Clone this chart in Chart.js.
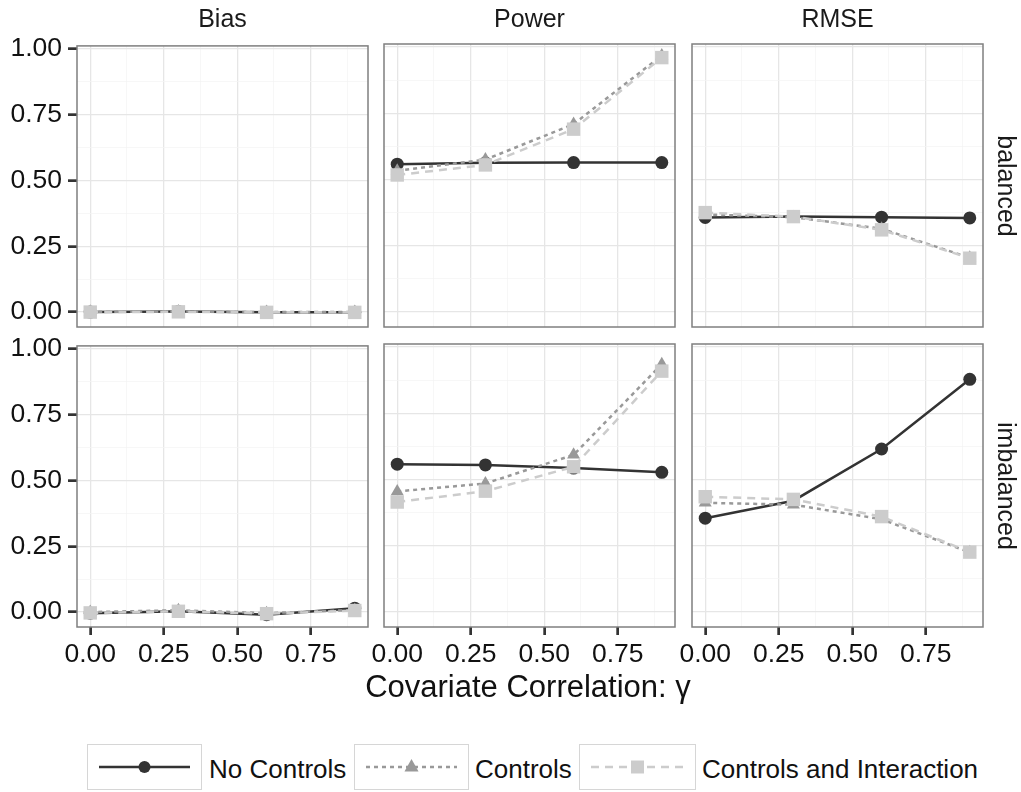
<!DOCTYPE html>
<html>
<head>
<meta charset="utf-8">
<script src="https://cdn.jsdelivr.net/npm/chart.js@4.4.0/dist/chart.umd.min.js"></script>
<style>
  body { margin: 0; background: #fff; width: 1021px; height: 792px; position: relative; overflow: hidden;
         font-family: "Liberation Sans", Arial, sans-serif; color: #1a1a1a; }
  canvas { position: absolute; }
  .txt { position: absolute; white-space: nowrap; }
  .strip { font-size: 25px; line-height: 25px; transform: translateX(-50%); }
  .rstrip { font-size: 25px; line-height: 25px; transform: translate(-50%, -50%) rotate(90deg); }
  .keybox { position: absolute; border: 1.5px solid #d6d6d6; box-sizing: border-box; }
  .keylab { font-size: 26px; line-height: 26px; color: #111; }
</style>
</head>
<body>
<script>
// x values (covariate correlation gamma) and tick positions
var gamma = [0, 0.3, 0.6, 0.9];
var xTicks = [0, 0.125, 0.25, 0.375, 0.5, 0.625, 0.75, 0.875];
var yTicks = [0, 0.125, 0.25, 0.375, 0.5, 0.625, 0.75, 0.875, 1];
var measures = ['Bias', 'Power', 'RMSE'];
var designs = ['balanced', 'imbalanced'];
var seriesNames = ['No Controls', 'Controls', 'Controls and Interaction'];

// Bias
var biasBalancedNoControls   = [0.000, 0.002, -0.001, -0.001];
var biasBalancedControls     = [0.001, 0.002, 0.000, 0.000];
var biasBalancedInteraction  = [0.000, 0.001, -0.001, -0.001];
var biasImbalancedNoControls  = [-0.004, 0.003, -0.010, 0.015];
var biasImbalancedControls    = [0.000, 0.007, -0.004, 0.008];
var biasImbalancedInteraction = [-0.003, 0.003, -0.006, 0.006];
// Power
var powerBalancedNoControls   = [0.558, 0.563, 0.564, 0.564];
var powerBalancedControls     = [0.533, 0.575, 0.709, 0.968];
var powerBalancedInteraction  = [0.517, 0.555, 0.690, 0.960];
var powerImbalancedNoControls  = [0.558, 0.555, 0.543, 0.527];
var powerImbalancedControls    = [0.455, 0.485, 0.593, 0.935];
var powerImbalancedInteraction = [0.415, 0.456, 0.548, 0.909];
// RMSE
var rmseBalancedNoControls   = [0.357, 0.360, 0.358, 0.355];
var rmseBalancedControls     = [0.368, 0.358, 0.314, 0.205];
var rmseBalancedInteraction  = [0.375, 0.360, 0.310, 0.203];
var rmseImbalancedNoControls  = [0.354, 0.420, 0.615, 0.878];
var rmseImbalancedControls    = [0.412, 0.405, 0.350, 0.225];
var rmseImbalancedInteraction = [0.435, 0.425, 0.360, 0.226];

var panels = [
  [[biasBalancedNoControls, biasBalancedControls, biasBalancedInteraction],
   [powerBalancedNoControls, powerBalancedControls, powerBalancedInteraction],
   [rmseBalancedNoControls, rmseBalancedControls, rmseBalancedInteraction]],
  [[biasImbalancedNoControls, biasImbalancedControls, biasImbalancedInteraction],
   [powerImbalancedNoControls, powerImbalancedControls, powerImbalancedInteraction],
   [rmseImbalancedNoControls, rmseImbalancedControls, rmseImbalancedInteraction]]
];

// look of each series
var styles = [
  { color: '#333333', dash: [], point: 'circle', radius: 6.5 },
  { color: '#999999', dash: [4, 4], point: 'triangle', radius: 7.5 },
  { color: '#cccccc', dash: [8, 6], point: 'rect', radius: 9.5 }
];

// panel geometry
var colLeft = [77, 384, 692];
var rowTop = [44, 344];
var panelW = 291, panelH = 283;
var axisW = 77, axisH = 45, pad = 20;
var font = '"Liberation Sans", Arial, sans-serif';

function isMajor(v) { return Math.abs(v * 4 - Math.round(v * 4)) < 1e-6; }

var panelBorder = {
  id: 'panelBorder',
  afterDraw: function(chart) {
    var a = chart.chartArea, ctx = chart.ctx;
    ctx.save();
    ctx.strokeStyle = '#7f7f7f';
    ctx.lineWidth = 1.5;
    ctx.strokeRect(a.left, a.top, a.right - a.left, a.bottom - a.top);
    ctx.restore();
  }
};

function makePanel(row, col) {
  var cv = document.createElement('canvas');
  cv.width = axisW + panelW + pad;
  cv.height = pad + panelH + axisH;
  cv.style.left = (colLeft[col] - axisW) + 'px';
  cv.style.top = (rowTop[row] - pad) + 'px';
  document.body.appendChild(cv);

  var showY = col === 0, showX = row === 1;
  var datasets = panels[row][col].map(function(vals, i) {
    var s = styles[i];
    return {
      label: seriesNames[i],
      data: gamma.map(function(g, k) { return { x: g, y: vals[k] }; }),
      borderColor: s.color,
      backgroundColor: s.color,
      borderWidth: 2.5,
      borderDash: s.dash,
      pointStyle: s.point,
      pointRadius: s.radius,
      pointBorderWidth: 0,
      pointBackgroundColor: s.color,
      tension: 0,
      order: 3 - i
    };
  });

  function scaleOpts(ticks, show, min, max, isX) {
    return {
      type: 'linear', min: min, max: max,
      afterBuildTicks: function(s) { s.ticks = ticks.map(function(v) { return { value: v }; }); },
      afterFit: function(s) { if (isX) s.height = axisH; else s.width = axisW; },
      border: { display: false },
      grid: {
        color: function(c) { return isMajor(c.tick.value) ? '#e6e6e6' : '#f3f3f3'; },
        lineWidth: function(c) { return isMajor(c.tick.value) ? 1.3 : 0.7; },
        tickColor: function(c) { return show && isMajor(c.tick.value) ? '#333333' : 'rgba(0,0,0,0)'; },
        tickWidth: 2.7,
        tickLength: isX ? 8 : 9,
        drawTicks: true
      },
      ticks: {
        display: show,
        autoSkip: false,
        maxRotation: 0, minRotation: 0,
        padding: isX ? 4 : 6,
        color: '#111111',
        font: { family: font, size: 26.5 },
        callback: function(v) { return isMajor(v) ? Number(v).toFixed(2) : ''; }
      }
    };
  }

  new Chart(cv.getContext('2d'), {
    type: 'line',
    data: { datasets: datasets },
    options: {
      responsive: false,
      animation: false,
      devicePixelRatio: 1,
      layout: { padding: { top: pad, right: pad, left: 0, bottom: 0 } },
      plugins: { legend: { display: false }, tooltip: { enabled: false } },
      scales: {
        x: scaleOpts(xTicks, showX, -0.045, 0.945, true),
        y: scaleOpts(yTicks, showY, -0.0566, 1.0113, false)
      }
    },
    plugins: [panelBorder]
  });
}

for (var r = 0; r < 2; r++) for (var c = 0; c < 3; c++) makePanel(r, c);

function addText(cls, txt, left, top) {
  var d = document.createElement('div');
  d.className = 'txt ' + cls;
  d.textContent = txt;
  d.style.left = left + 'px';
  d.style.top = top + 'px';
  document.body.appendChild(d);
  return d;
}

// facet strips
measures.forEach(function(m, c) { addText('strip', m, colLeft[c] + panelW / 2, 6); });
designs.forEach(function(d, r) { addText('rstrip', d, 1006, rowTop[r] + panelH / 2); });

// axis title
var title = addText('', 'Covariate Correlation: \u03b3', 528, 671);
title.style.fontSize = '31px';
title.style.lineHeight = '31px';
title.style.transform = 'translateX(-50%)';
title.style.color = '#111';

// legend
var keyBoxes = [87, 354, 579];
var keyWidths = [115, 115, 117];
var keyLabels = [209, 475, 702];
seriesNames.forEach(function(name, i) {
  var box = document.createElement('div');
  box.className = 'keybox';
  box.style.left = keyBoxes[i] + 'px';
  box.style.top = '744px';
  box.style.width = keyWidths[i] + 'px';
  box.style.height = '46px';
  document.body.appendChild(box);

  var kc = document.createElement('canvas');
  kc.width = keyWidths[i];
  kc.height = 46;
  kc.style.left = keyBoxes[i] + 'px';
  kc.style.top = '744px';
  document.body.appendChild(kc);
  var ctx = kc.getContext('2d'), s = styles[i], cy = 23, cx = keyWidths[i] / 2;
  ctx.strokeStyle = s.color;
  ctx.fillStyle = s.color;
  ctx.lineWidth = 2.5;
  ctx.setLineDash(s.dash);
  ctx.beginPath();
  ctx.moveTo(12, cy);
  ctx.lineTo(keyWidths[i] - 12, cy);
  ctx.stroke();
  ctx.setLineDash([]);
  ctx.beginPath();
  if (s.point === 'circle') {
    ctx.arc(cx, cy, 6, 0, Math.PI * 2);
  } else if (s.point === 'triangle') {
    ctx.moveTo(cx, cy - 8); ctx.lineTo(cx + 7, cy + 4.5); ctx.lineTo(cx - 7, cy + 4.5); ctx.closePath();
  } else {
    ctx.rect(cx - 6.5, cy - 6.5, 13, 13);
  }
  ctx.fill();

  addText('keylab', name, keyLabels[i], 756);
});
</script>
</body>
</html>
